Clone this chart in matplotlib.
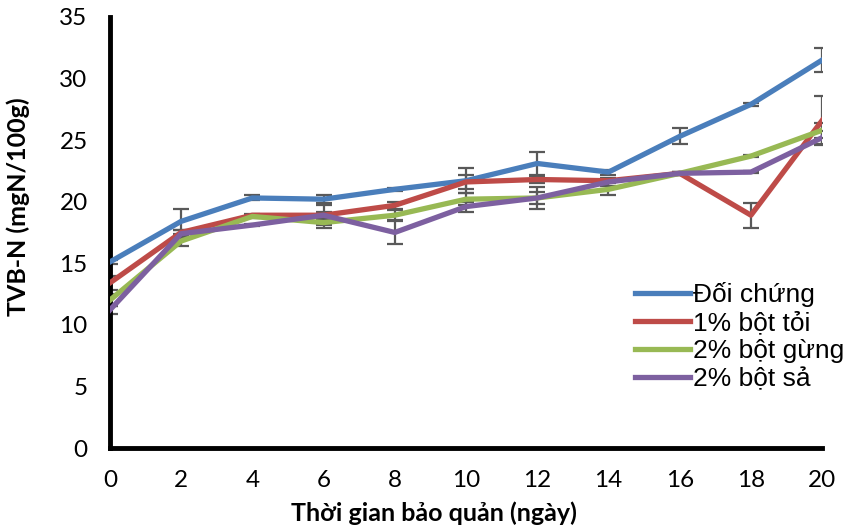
import matplotlib
matplotlib.use('Agg')
import matplotlib.pyplot as plt
import numpy as np

plt.rcParams['font.family'] = ['Lato', 'DejaVu Sans']

days = [0, 2, 4, 6, 8, 10, 12, 14, 16, 18, 20]
labels = ['Đối chứng', '1% bột tỏi', '2% bột gừng', '2% bột sả']
colors = ['#4A7EBB', '#BE4B48', '#98B954', '#7D60A0']

doi_chung = [15.1, 18.4, 20.3, 20.2, 21.0, 21.7, 23.1, 22.4, 25.3, 27.9, 31.5]
bot_toi = [13.4, 17.5, 18.9, 18.9, 19.7, 21.6, 21.8, 21.7, 22.3, 18.9, 26.6]
bot_gung = [12.0, 16.8, 18.8, 18.3, 18.9, 20.2, 20.3, 21.0, 22.3, 23.7, 25.8]
bot_sa = [11.2, 17.4, 18.1, 18.9, 17.5, 19.6, 20.3, 21.6, 22.3, 22.4, 25.2]

err_doi_chung = [0.2, 1.0, 0.2, 0.3, 0.1, 1.0, 0.9, 0.2, 0.65, 0.1, 1.0]
err_bot_toi = [0.6, 0.2, 0.1, 0.8, 0.3, 0.6, 0.3, 0.1, 0.1, 1.0, 2.0]
err_bot_gung = [0.5, 0.4, 0.1, 0.4, 0.4, 0.5, 0.5, 0.5, 0.1, 0.1, 0.6]
err_bot_sa = [0.3, 0.3, 0.1, 0.3, 0.9, 0.4, 0.9, 0.3, 0.1, 0.1, 0.5]

series = [doi_chung, bot_toi, bot_gung, bot_sa]
errors = [err_doi_chung, err_bot_toi, err_bot_gung, err_bot_sa]

fig = plt.figure(figsize=(8.45, 5.28), dpi=100)
ax = fig.add_axes([0.130, 0.1515, 0.843, 0.8165])

for y, e, c, lab in zip(series, errors, colors, labels):
    ax.errorbar(days, y, yerr=e, fmt='none', ecolor='#595959', elinewidth=1.6,
                capsize=6, capthick=1.6, zorder=2)
    ax.plot(days, y, color=c, lw=3.8, label=lab, zorder=3, solid_joinstyle='round')

ax.set_xlim(0, 20)
ax.set_ylim(0, 35)
ax.set_xticks(days)
ax.set_yticks(np.arange(0, 36, 5))
ax.tick_params(length=0, labelsize=17.5)
ax.tick_params(axis='y', pad=16)
ax.tick_params(axis='x', pad=16)
for s in ['top', 'right']:
    ax.spines[s].set_visible(False)
for s in ['left', 'bottom']:
    ax.spines[s].set_linewidth(3.5)

ax.set_xlabel('Thời gian bảo quản (ngày)', fontsize=18, fontweight='bold', va='center')
ax.set_ylabel('TVB-N (mgN/100g)', fontsize=18, fontweight='bold', va='center')
ax.xaxis.set_label_coords(0.455, -0.151)
ax.yaxis.set_label_coords(-0.129, 0.559)

ax.legend(loc='upper left', bbox_to_anchor=(0.7515, 0.466), bbox_transform=fig.transFigure,
          frameon=False, prop={'family': 'Liberation Sans', 'size': 19},
          handlelength=2.1, handletextpad=0.1, labelspacing=0.15, borderaxespad=0, borderpad=0)

fig.savefig('out.png', dpi=100)
